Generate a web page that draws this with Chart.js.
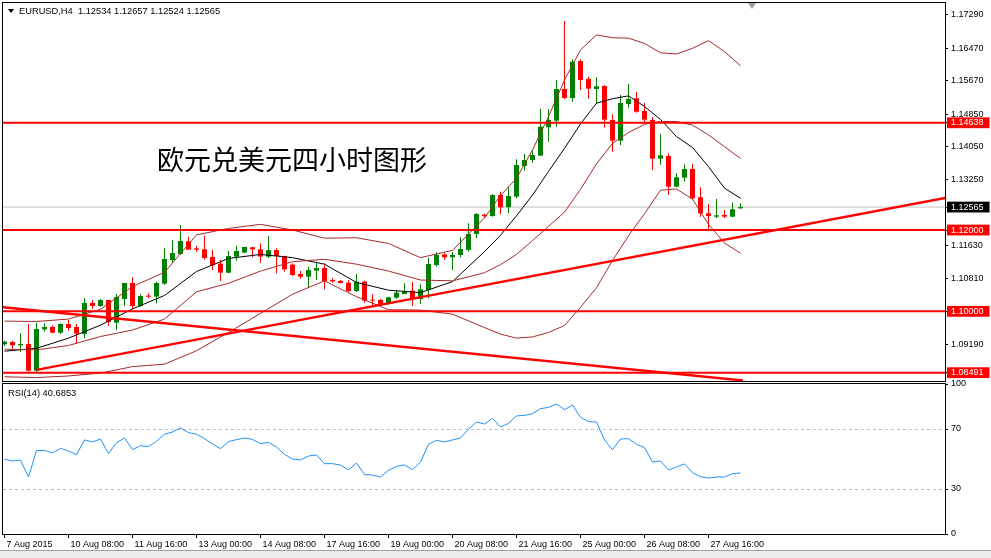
<!DOCTYPE html>
<html>
<head>
<meta charset="utf-8">
<script src="https://cdn.jsdelivr.net/npm/chart.js@4.4.1/dist/chart.umd.min.js"></script>
<style>
  body { margin: 0; background: #fff; }
  #tela { position: relative; width: 991px; height: 558px; overflow: hidden; background: #fff; }
  canvas { position: absolute; left: 0; }
  #grafico_preco { top: 0; }
  #grafico_rsi { top: 372px; }
  .texto { position: absolute; font-family: "Liberation Sans", Arial, sans-serif; font-size: 9.3px; line-height: 12px; color: #000; white-space: pre; z-index: 2; }
  #titulo { position: absolute; left: 157px; top: 144px; font-family: "Noto Sans CJK SC", sans-serif; font-size: 27px; line-height: 30px; color: #000; white-space: nowrap; z-index: 2; }
  #seta { position: absolute; left: 8px; top: 9px; width: 0; height: 0; border-left: 3px solid transparent; border-right: 3px solid transparent; border-top: 4px solid #000; z-index: 2; }
  #seta_shift { position: absolute; left: 748px; top: 3px; width: 0; height: 0; border-left: 4px solid transparent; border-right: 4px solid transparent; border-top: 6px solid #a0a0a0; z-index: 2; }
  #linha_base { position: absolute; left: 0; top: 550px; width: 991px; height: 1px; background: #a0a0a0; }
  #abas { position: absolute; left: 0; top: 551px; width: 991px; height: 7px; background: #ececec; }
</style>
</head>
<body>
<div id="tela">
  <canvas id="grafico_preco" width="991" height="382"></canvas>
  <canvas id="grafico_rsi" width="991" height="186"></canvas>
  <div id="seta"></div>
  <div class="texto" style="left: 19px; top: 5px;">EURUSD,H4  1.12534 1.12657 1.12524 1.12565</div>
  <div id="titulo">欧元兑美元四小时图形</div>
  <div id="seta_shift"></div>
  <div class="texto" style="left: 8px; top: 387px;">RSI(14) 40.6853</div>
  <div id="linha_base"></div>
  <div id="abas"></div>
</div>
<script>
// eixo do tempo (indice da barra H4)
var tick_bars = [0, 8, 16, 24, 32, 40, 48, 56, 64, 72, 80, 88];
var tick_labels = ["7 Aug 2015", "10 Aug 08:00", "11 Aug 16:00", "13 Aug 00:00", "14 Aug 08:00", "17 Aug 16:00",
	"19 Aug 00:00", "20 Aug 08:00", "21 Aug 16:00", "25 Aug 00:00", "26 Aug 08:00", "27 Aug 16:00"];

var opens = [1.09188, 1.09246, 1.09164, 1.09197, 1.08541, 1.09557, 1.09615, 1.09475, 1.09689, 1.09615,
	1.09443, 1.10205, 1.10131, 1.10279, 1.09721, 1.10303, 1.10697, 1.10131, 1.10386, 1.10361,
	1.10681, 1.11263, 1.11411, 1.11722, 1.11550, 1.11525, 1.11337, 1.11173, 1.10951, 1.11345,
	1.11443, 1.11575, 1.11525, 1.11345, 1.11509, 1.11361, 1.11148, 1.10919, 1.10853, 1.11001,
	1.11066, 1.10771, 1.10746, 1.10705, 1.10500, 1.10730, 1.10279, 1.10279, 1.10181, 1.10336,
	1.10427, 1.10509, 1.10304, 1.10525, 1.11140, 1.11402, 1.11329, 1.11386, 1.11509, 1.11903,
	1.12380, 1.12345, 1.12862, 1.12559, 1.12821, 1.13575, 1.13723, 1.13830, 1.14527, 1.14691,
	1.15470, 1.15248, 1.16158, 1.15716, 1.15470, 1.15543, 1.14707, 1.14199, 1.15101, 1.15240,
	1.14928, 1.14707, 1.13756, 1.13821, 1.13067, 1.13289, 1.13502, 1.12805, 1.12411, 1.12329,
	1.12370, 1.12329, 1.12534];
var highs = [1.09279, 1.09279, 1.09459, 1.09689, 1.09721, 1.09705, 1.09656, 1.09705, 1.09787, 1.09689,
	1.10328, 1.10279, 1.10303, 1.10279, 1.10435, 1.10697, 1.10837, 1.10418, 1.10443, 1.10730,
	1.11550, 1.11755, 1.12124, 1.11837, 1.11616, 1.11862, 1.11509, 1.11263, 1.11484, 1.11616,
	1.11591, 1.11591, 1.11673, 1.11853, 1.11550, 1.11370, 1.11181, 1.10992, 1.11099, 1.11222,
	1.11181, 1.10820, 1.10771, 1.10771, 1.10919, 1.10755, 1.10418, 1.10312, 1.10361, 1.10525,
	1.10689, 1.10730, 1.10664, 1.11320, 1.11452, 1.11427, 1.11468, 1.11821, 1.12165, 1.12411,
	1.12400, 1.12887, 1.12944, 1.13067, 1.13739, 1.13871, 1.13953, 1.14986, 1.14969, 1.15691,
	1.17142, 1.16199, 1.16199, 1.15773, 1.15757, 1.15560, 1.14846, 1.15322, 1.15593, 1.15396,
	1.15133, 1.14773, 1.14363, 1.13887, 1.13395, 1.13617, 1.13625, 1.13051, 1.12641, 1.12764,
	1.12493, 1.12673, 1.12657];
var lows = [1.09147, 1.09082, 1.09008, 1.08516, 1.08491, 1.09500, 1.09459, 1.09443, 1.09525, 1.09213,
	1.09336, 1.10066, 1.10115, 1.09639, 1.09541, 1.10131, 1.10049, 1.10115, 1.10320, 1.10197,
	1.10648, 1.11197, 1.11386, 1.11509, 1.11460, 1.11271, 1.11017, 1.10746, 1.10935, 1.11247,
	1.11443, 1.11329, 1.11197, 1.11304, 1.10935, 1.10976, 1.10869, 1.10804, 1.10582, 1.10771,
	1.10541, 1.10705, 1.10689, 1.10476, 1.10476, 1.10213, 1.10131, 1.10131, 1.10164, 1.10312,
	1.10427, 1.10131, 1.10181, 1.10320, 1.11099, 1.11263, 1.11017, 1.11329, 1.11468, 1.11796,
	1.12300, 1.12329, 1.12395, 1.12411, 1.12780, 1.13461, 1.13657, 1.13830, 1.14174, 1.14543,
	1.15215, 1.15158, 1.15445, 1.15232, 1.15109, 1.14518, 1.13928, 1.14092, 1.15010, 1.14887,
	1.14666, 1.13477, 1.13608, 1.12862, 1.13051, 1.13190, 1.12755, 1.12329, 1.11985, 1.12288,
	1.12288, 1.12313, 1.12524];
var closes = [1.09254, 1.09164, 1.09197, 1.08541, 1.09566, 1.09615, 1.09475, 1.09689, 1.09590, 1.09451,
	1.10205, 1.10131, 1.10279, 1.09738, 1.10353, 1.10697, 1.10131, 1.10377, 1.10361, 1.10697,
	1.11288, 1.11435, 1.11730, 1.11517, 1.11517, 1.11312, 1.11132, 1.10951, 1.11361, 1.11484,
	1.11583, 1.11525, 1.11345, 1.11509, 1.11361, 1.11033, 1.10894, 1.10853, 1.11017, 1.11066,
	1.10746, 1.10738, 1.10697, 1.10500, 1.10730, 1.10263, 1.10263, 1.10181, 1.10345, 1.10459,
	1.10492, 1.10304, 1.10541, 1.11165, 1.11386, 1.11329, 1.11386, 1.11534, 1.11903, 1.12395,
	1.12340, 1.12862, 1.12559, 1.12837, 1.13600, 1.13723, 1.13846, 1.14543, 1.14707, 1.15470,
	1.15248, 1.16142, 1.15691, 1.15478, 1.15535, 1.14715, 1.14199, 1.15125, 1.15224, 1.14912,
	1.14715, 1.13756, 1.13838, 1.13067, 1.13297, 1.13502, 1.12780, 1.12411, 1.12345, 1.12362,
	1.12329, 1.12509, 1.12565];

var rsi_values = [49.8, 48.7, 49.3, 38.0, 55.6, 55.8, 54.0, 57.1, 55.3, 52.9,
	62.7, 61.4, 63.3, 53.6, 60.9, 64.0, 56.2, 58.9, 58.2, 61.8,
	66.5, 68.0, 70.7, 67.6, 66.5, 63.6, 60.0, 56.9, 61.6, 62.9,
	64.0, 63.1, 60.2, 61.1, 58.0, 53.1, 50.0, 49.3, 52.0, 52.7,
	46.9, 46.9, 46.0, 42.7, 47.3, 39.6, 39.3, 38.0, 42.5, 45.1,
	46.0, 42.9, 48.0, 59.8, 62.5, 61.4, 62.7, 64.0, 69.8, 74.7,
	73.3, 77.1, 71.3, 73.8, 78.7, 79.1, 80.2, 83.6, 84.4, 86.7,
	82.9, 86.0, 77.8, 74.9, 74.7, 62.7, 56.2, 63.3, 63.6, 59.8,
	57.6, 48.0, 48.7, 42.7, 44.7, 46.7, 40.9, 38.2, 37.3, 38.0,
	38.0, 40.2, 40.6853];

// indicadores (bandas de Bollinger e media)
var band_bars = [0, 4, 8, 12, 16, 20, 24, 28, 32, 36, 40, 44, 48, 52, 56, 60,
	62, 64, 66, 68, 70, 72, 74, 76, 78, 80, 82, 84, 86, 88, 90, 92];
var band_upper = [1.0976, 1.0975, 1.0981, 1.1005, 1.1061, 1.1096, 1.1188, 1.1204, 1.1214, 1.1200, 1.1180, 1.1181, 1.1167, 1.1132, 1.1150, 1.1230,
	1.1285, 1.1327, 1.1397, 1.1479, 1.1569, 1.1643, 1.1680, 1.1673, 1.1672, 1.1659, 1.1636, 1.1633, 1.1647, 1.1666, 1.1639, 1.1604];
var band_middle = [1.0907, 1.0905, 1.0916, 1.0938, 1.0954, 1.0981, 1.1048, 1.1069, 1.1099, 1.1122, 1.1128, 1.1116, 1.1099, 1.1077, 1.1075, 1.1095,
	1.1115, 1.1140, 1.1174, 1.1209, 1.1244, 1.1300, 1.1363, 1.1413, 1.1440, 1.1460, 1.1467, 1.1467, 1.1458, 1.1434, 1.1405, 1.1376];
var band_lower = [1.0839, 1.0837, 1.0841, 1.0848, 1.0864, 1.0870, 1.0903, 1.0948, 1.0995, 1.1042, 1.1075, 1.1036, 1.1004, 1.1003, 1.0993, 1.0960,
	1.0944, 1.0934, 1.0937, 1.0948, 1.0965, 1.1010, 1.1058, 1.1125, 1.1186, 1.1240, 1.1298, 1.1301, 1.1276, 1.1214, 1.1168, 1.1143];
var ma_line = [1.0902, 1.0909, 1.0934, 1.0966, 1.1006, 1.1039, 1.1098, 1.1130, 1.1140, 1.1132, 1.1116, 1.1071, 1.1052, 1.1046, 1.1073, 1.1147,
	1.1187, 1.1235, 1.1286, 1.1344, 1.1401, 1.1461, 1.1512, 1.1523, 1.1530, 1.1504, 1.1472, 1.1430, 1.1403, 1.1356, 1.1303, 1.1278];

var levels = [1.14638, 1.12000, 1.10000, 1.08491];
var trend_up_bars = [4, 117.6];
var trend_up_prices = [1.0856, 1.1279];
var trend_down_bars = [-0.19, 92.3];
var trend_down_prices = [1.1010, 1.0830];

var price_ticks = [1.08491, 1.09190, 1.10000, 1.10810, 1.11630, 1.12000, 1.12565, 1.13250, 1.14050, 1.14638, 1.14850, 1.15670, 1.16470, 1.17290];
var rsi_ticks = [0, 30, 70, 100];
var rsi_levels = [30, 70];

var x_min = -0.1875;
var x_max = 117.5625;
var y_min = 1.08286;
var y_max = 1.17585;

var last_close = closes[closes.length - 1];

function pontos(xs, ys) {
	return xs.map(function (x, k) {
		return { x: x, y: ys[k] };
	});
}

function linha_horizontal(valor) {
	return [{ x: x_min, y: valor }, { x: x_max, y: valor }];
}

function mesmo_valor(a, b) {
	return Math.abs(a - b) < 1e-7;
}

function marcado(valor) {
	if (mesmo_valor(valor, last_close)) return true;
	return levels.some(function (l) { return mesmo_valor(l, valor); });
}

// eixo da direita com largura fixa e sem folga extra em cima/embaixo
function eixo_fixo(scale) {
	scale.width = 46;
	scale.paddingTop = 0;
	scale.paddingBottom = 0;
}

var candle_colors = closes.map(function (c, i) {
	return c >= opens[i] ? "#008000" : "#ff0000";
});

var moldura = {
	id: "moldura",
	afterDraw: function (chart) {
		var a = chart.chartArea;
		var ctx = chart.ctx;
		ctx.save();
		ctx.strokeStyle = "#000";
		ctx.lineWidth = 1;
		ctx.strokeRect(a.left - 0.5, a.top - 0.5, a.right - a.left + 1, a.bottom - a.top + 1);
		ctx.restore();
	}
};

Chart.defaults.font.family = "'Liberation Sans', Arial, sans-serif";
Chart.defaults.font.size = 9;
Chart.defaults.color = "#000";

var datasets_preco = [
	{
		type: "bar",
		data: lows.map(function (l, i) { return { x: i, y: [l, highs[i]] }; }),
		backgroundColor: candle_colors,
		barThickness: 1,
		grouped: false,
		inflateAmount: 0,
		order: 4,
	},
	{
		type: "bar",
		data: opens.map(function (o, i) { return { x: i, y: [o, closes[i]] }; }),
		backgroundColor: candle_colors,
		barThickness: 5,
		minBarLength: 1,
		grouped: false,
		inflateAmount: 0,
		order: 3,
	},
	{
		type: "line",
		data: linha_horizontal(last_close),
		borderColor: "#c0c0c0",
		borderWidth: 1,
		pointRadius: 0,
		order: 6,
	},
];

[band_upper, band_middle, band_lower].forEach(function (serie) {
	datasets_preco.push({
		type: "line",
		data: pontos(band_bars, serie),
		borderColor: "#a52a2a",
		borderWidth: 1,
		pointRadius: 0,
		tension: 0,
		order: 2,
	});
});

datasets_preco.push({
	type: "line",
	data: pontos(band_bars, ma_line),
	borderColor: "#000",
	borderWidth: 1,
	pointRadius: 0,
	tension: 0,
	order: 2,
});

levels.forEach(function (l) {
	datasets_preco.push({
		type: "line",
		data: linha_horizontal(l),
		borderColor: "#ff0000",
		borderWidth: 2,
		pointRadius: 0,
		order: 0,
	});
});

datasets_preco.push({
	type: "line",
	data: pontos(trend_up_bars, trend_up_prices),
	borderColor: "#ff0000",
	borderWidth: 2.5,
	pointRadius: 0,
	order: 0,
});
datasets_preco.push({
	type: "line",
	data: pontos(trend_down_bars, trend_down_prices),
	borderColor: "#ff0000",
	borderWidth: 2.5,
	pointRadius: 0,
	order: 0,
});

new Chart(document.getElementById("grafico_preco"), {
	type: "bar",
	data: { datasets: datasets_preco },
	plugins: [moldura],
	options: {
		responsive: false,
		animation: false,
		events: [],
		layout: { padding: { left: 3, top: 3, right: 0, bottom: 1 } },
		plugins: { legend: { display: false }, tooltip: { enabled: false } },
		scales: {
			x: { type: "linear", display: false, min: x_min, max: x_max, offset: false },
			y: {
				type: "linear",
				position: "right",
				min: y_min,
				max: y_max,
				bounds: "data",
				afterFit: eixo_fixo,
				afterBuildTicks: function (scale) {
					scale.ticks = price_ticks.map(function (v) { return { value: v }; });
				},
				grid: { drawOnChartArea: false, tickLength: 3, tickColor: "#000" },
				border: { display: false },
				ticks: {
					autoSkip: false,
					padding: 3,
					callback: function (v) { return Number(v).toFixed(5); },
					color: function (ctx) {
						return ctx.tick && marcado(ctx.tick.value) ? "#fff" : "#000";
					},
					showLabelBackdrop: function (ctx) {
						return !!(ctx.tick && marcado(ctx.tick.value));
					},
					backdropColor: function (ctx) {
						return ctx.tick && mesmo_valor(ctx.tick.value, last_close) ? "#000" : "#ff0000";
					},
					backdropPadding: { left: 4, right: 6, top: 0, bottom: 0 },
				},
			},
		},
	},
});

new Chart(document.getElementById("grafico_rsi"), {
	type: "line",
	data: {
		datasets: [
			{
				data: rsi_values.map(function (v, i) { return { x: i, y: v }; }),
				borderColor: "#1e90ff",
				borderWidth: 1,
				pointRadius: 0,
				tension: 0,
			},
		],
	},
	plugins: [moldura],
	options: {
		responsive: false,
		animation: false,
		events: [],
		layout: { padding: { left: 3, top: 12, right: 0, bottom: 0 } },
		plugins: { legend: { display: false }, tooltip: { enabled: false } },
		scales: {
			x: {
				type: "linear",
				min: x_min,
				max: x_max,
				offset: false,
				afterFit: function (scale) { scale.height = 24; },
				afterBuildTicks: function (scale) {
					scale.ticks = tick_bars.map(function (v) { return { value: v }; });
				},
				grid: { drawOnChartArea: false, tickLength: 4, tickColor: "#000" },
				border: { display: false },
				ticks: {
					autoSkip: false,
					maxRotation: 0,
					align: "start",
					labelOffset: 2,
					padding: 1,
					callback: function (v) { return tick_labels[tick_bars.indexOf(v)]; },
				},
			},
			y: {
				type: "linear",
				position: "right",
				min: 0,
				max: 100,
				afterFit: eixo_fixo,
				afterBuildTicks: function (scale) {
					scale.ticks = rsi_ticks.map(function (v) { return { value: v }; });
				},
				grid: {
					color: function (ctx) {
						return ctx.tick && rsi_levels.indexOf(ctx.tick.value) >= 0 ? "#c0c0c0" : "rgba(0,0,0,0)";
					},
					tickColor: "#000",
					tickLength: 3,
				},
				border: { display: false, dash: [3, 3] },
				ticks: { autoSkip: false, padding: 3 },
			},
		},
	},
});
</script>
</body>
</html>
